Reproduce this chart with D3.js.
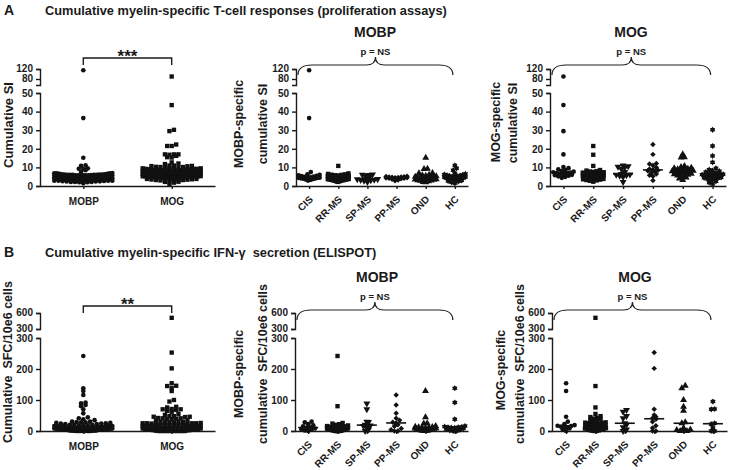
<!DOCTYPE html>
<html lang="en">
<head>
<meta charset="UTF-8">
<title>Cumulative myelin-specific responses</title>
<script src="https://cdn.jsdelivr.net/npm/d3@7"></script>
<style>
    html, body { margin: 0; padding: 0; background: #fff; }
    svg { display: block; font-family: "Liberation Sans", Arial, Helvetica, sans-serif; font-weight: bold; }
    .axis path, .axis line { stroke: #1a1a1a; stroke-width: 1.4; }
    .axis text { font-family: "Liberation Sans", Arial, sans-serif; font-size: 10px; font-weight: bold; fill: #1a1a1a; }
    text { fill: #1a1a1a; }
</style>
</head>
<body>
<svg id="chart" width="731" height="470"></svg>
<script>
const groups = ["CIS", "RR-MS", "SP-MS", "PP-MS", "OND", "HC"];
const antigens = ["MOBP", "MOG"];

// A: proliferation assays, cumulative SI per subject
const cisProlifMOBP = [115, 36.5, 7.5, 6.3, 6.0, 5.8, 5.5, 5.3, 5.1, 4.9, 4.7, 4.6, 4.5, 4.4, 4.3, 4.1, 4.0, 3.9, 3.7, 3.5, 3.2, 2.9];
const rrProlifMOBP = [10.8, 6.8, 6.5, 6.3, 6.1, 6.0, 5.8, 5.7, 5.5, 5.4, 5.2, 5.1, 5.0, 4.9, 4.8, 4.7, 4.6, 4.5, 4.5, 4.4, 4.3, 4.2, 4.1, 4.0, 4.0, 3.9, 3.8, 3.7, 3.6, 3.5, 3.4, 3.3, 3.2, 3.1, 3.0, 2.9, 2.8, 2.6, 2.4, 2.2];
const spProlifMOBP = [6.2, 6.0, 5.9, 5.7, 4.4, 4.0, 3.7, 3.6, 3.4, 3.3, 3.1, 2.8, 2.2];
const ppProlifMOBP = [5.3, 5.1, 5.0, 4.9, 4.8, 4.7, 4.6, 4.5, 4.4, 4.3, 4.2, 4.1, 3.9, 3.6, 3.2, 2.8];
const ondProlifMOBP = [15.2, 9.3, 9.1, 7.0, 6.8, 6.0, 5.8, 5.5, 5.2, 5.0, 4.8, 4.6, 4.5, 4.4, 4.3, 4.2, 4.0, 3.9, 3.8, 3.6, 3.5, 3.3, 3.1, 3.0, 2.8, 2.5, 2.2, 2.0];
const hcProlifMOBP = [11.1, 9.5, 8.5, 6.8, 6.5, 6.2, 6.0, 5.8, 5.6, 5.4, 5.2, 5.0, 4.9, 4.8, 4.7, 4.6, 4.5, 4.4, 4.3, 4.2, 4.1, 4.0, 3.9, 3.8, 3.6, 3.4, 3.2, 3.0, 2.7, 2.4, 2.0, 1.5];

const cisProlifMOG = [90, 43.5, 29.5, 17.0, 10.2, 9.6, 9.0, 8.5, 8.0, 7.7, 7.4, 7.2, 7.0, 6.8, 6.5, 6.2, 6.0, 5.8, 5.5, 5.2, 4.9, 4.4];
const rrProlifMOG = [21.5, 16.8, 10.8, 8.6, 8.3, 8.0, 7.8, 7.6, 7.4, 7.2, 7.0, 6.9, 6.8, 6.7, 6.6, 6.5, 6.4, 6.3, 6.2, 6.1, 6.0, 5.9, 5.8, 5.6, 5.5, 5.4, 5.2, 5.0, 4.8, 4.6, 4.4, 4.2, 4.0, 3.8, 3.6, 3.4, 3.2, 3.0, 2.8, 2.3];
const spProlifMOG = [11.0, 10.6, 10.3, 10.0, 9.2, 7.5, 6.5, 6.2, 6.0, 5.8, 5.5, 4.8, 2.2];
const ppProlifMOG = [22.3, 17.0, 12.1, 11.8, 11.0, 10.0, 9.2, 8.8, 8.5, 8.2, 7.8, 7.0, 6.4, 5.8, 5.2, 3.0];
const ondProlifMOG = [17.0, 15.5, 15.3, 10.7, 10.2, 9.8, 9.5, 9.2, 9.0, 8.7, 8.5, 8.2, 8.0, 7.8, 7.6, 7.4, 7.2, 7.0, 6.8, 6.6, 6.3, 6.0, 5.7, 5.3, 5.0, 4.6, 4.0, 3.2];
const hcProlifMOG = [30.2, 21.5, 16.2, 12.7, 9.5, 8.8, 8.3, 8.0, 7.5, 7.0, 6.8, 6.5, 6.3, 6.1, 6.0, 5.9, 5.8, 5.6, 5.5, 5.4, 5.2, 5.0, 4.8, 4.6, 4.4, 4.1, 3.8, 3.5, 3.0, 2.5, 1.8, 1.1];

// B: ELISPOT, IFN-gamma SFC per 10e6 cells
const cisElispotMOBP = [30, 28, 22, 18, 15, 12, 10, 8, 6, 4, 2, 0];
const rrElispotMOBP = [242, 80, 26, 24, 22, 20, 18, 16, 15, 14, 13, 12, 11, 10, 10, 9, 8, 8, 7, 6, 6, 5, 5, 4, 4, 3, 3, 2, 2, 1, 1, 0, 0, 0, 0, 0];
const spElispotMOBP = [89, 70, 30, 29, 20, 18, 16, 10, 5, 0];
const ppElispotMOBP = [116, 84, 57, 41, 35, 28, 26, 20, 15, 8, 4, 0, 0];
const ondElispotMOBP = [129, 44, 25, 24, 16, 14, 13, 12, 11, 11, 10, 9, 8, 7, 6, 5, 4, 3, 2, 1, 0, 0];
const hcElispotMOBP = [138, 92, 38, 16, 14, 13, 12, 12, 11, 10, 8, 6, 4, 2, 0, 0];

const cisElispotMOG = [154, 129, 46, 30, 22, 19, 17, 16, 14, 12, 10, 8, 5, 0];
const rrElispotMOG = [510, 145, 76, 55, 48, 45, 42, 40, 38, 35, 33, 30, 28, 27, 26, 25, 24, 22, 20, 19, 18, 16, 15, 14, 12, 10, 9, 8, 6, 5, 4, 3, 2, 1, 0, 0];
const spElispotMOG = [68, 62, 48, 41, 25, 20, 12, 5, 0];
const ppElispotMOG = [253, 202, 70, 52, 46, 41, 38, 30, 17, 10, 0, 0];
const ondElispotMOG = [146, 138, 100, 78, 65, 28, 25, 10, 5, 3, 0, 0, 0];
const hcElispotMOG = [95, 71, 70, 25, 22, 10, 0, 0];

const prolifMOBP = [cisProlifMOBP, rrProlifMOBP, spProlifMOBP, ppProlifMOBP, ondProlifMOBP, hcProlifMOBP];
const prolifMOG = [cisProlifMOG, rrProlifMOG, spProlifMOG, ppProlifMOG, ondProlifMOG, hcProlifMOG];
const elispotMOBP = [cisElispotMOBP, rrElispotMOBP, spElispotMOBP, ppElispotMOBP, ondElispotMOBP, hcElispotMOBP];
const elispotMOG = [cisElispotMOG, rrElispotMOG, spElispotMOG, ppElispotMOG, ondElispotMOG, hcElispotMOG];

const prolifTicksLow = [0, 10, 20, 30, 40, 50];
const prolifTicksHigh = [80, 120];
const elispotTicksLow = [0, 100, 200, 300];
const elispotTicksHigh = [300, 600];

// ---------------------------------------------------------------
const svg = d3.select("#chart");

// six point star for HC
const symbolHexStar = {
    draw(ctx, size) {
        const r = Math.sqrt(size / 2.1);
        const ri = r * 0.64;
        for (let k = 0; k < 12; k++) {
            const a = Math.PI / 6 * k - Math.PI / 2;
            const rr = k % 2 ? ri : r;
            if (k) ctx.lineTo(rr * Math.cos(a), rr * Math.sin(a));
            else ctx.moveTo(rr * Math.cos(a), rr * Math.sin(a));
        }
        ctx.closePath();
    }
};

const shp = {
    circle: {type: d3.symbolCircle, size: 17, rot: 0},
    square: {type: d3.symbolSquare, size: 19, rot: 0},
    triDown: {type: d3.symbolTriangle, size: 21, rot: 180},
    diamond: {type: d3.symbolSquare, size: 15, rot: 45},
    triUp: {type: d3.symbolTriangle, size: 21, rot: 0},
    hex: {type: symbolHexStar, size: 20, rot: 0}
};
const groupShapes = [shp.circle, shp.square, shp.triDown, shp.diamond, shp.triUp, shp.hex];

const prolifScale = {low: [0, 50], lowRange: [186, 93], high: [56, 120], highRange: [85, 69],
    lowTicks: prolifTicksLow, highTicks: prolifTicksHigh};
const elispotScale = {low: [0, 300], lowRange: [431, 338], high: [300, 600], highRange: [329, 313],
    lowTicks: elispotTicksLow, highTicks: elispotTicksHigh};

// scatter-dot layout: points in the same row are spread around the centre
function swarm(values, yOf, cx, step, maxW, binH) {
    const pts = values.map(v => ({v: v, py: yOf(v)})).sort((a, b) => b.py - a.py);
    const bins = [];
    pts.forEach(p => {
        const last = bins[bins.length - 1];
        if (last && Math.abs(p.py - last[0].py) < binH) last.push(p);
        else bins.push([p]);
    });
    bins.forEach(bin => {
        const n = bin.length;
        const s = n > 1 ? Math.min(step, maxW / (n - 1)) : 0;
        const slots = d3.range(n).map(k => k - (n - 1) / 2)
            .sort((a, b) => Math.abs(a) - Math.abs(b) || a - b);
        bin.forEach((p, i) => { p.px = cx + slots[i] * s; });
    });
    return pts;
}

function drawPanel(p) {
    const g = svg.append("g");
    const sc = p.sc;
    const yLow = d3.scaleLinear().domain(sc.low).range(sc.lowRange);
    const yHigh = d3.scaleLinear().domain(sc.high).range(sc.highRange);
    const yOf = v => v > sc.low[1] ? yHigh(v) : yLow(v);
    const x = d3.scalePoint().domain(p.cats).range([p.x0, p.x1]).padding(p.pad);

    g.append("g").attr("class", "axis").attr("transform", `translate(${p.x0},0)`)
        .call(d3.axisLeft(yLow).tickValues(sc.lowTicks).tickSize(4).tickPadding(3).tickSizeOuter(4));
    g.append("g").attr("class", "axis").attr("transform", `translate(${p.x0},0)`)
        .call(d3.axisLeft(yHigh).tickValues(sc.highTicks).tickSize(4).tickPadding(3).tickSizeOuter(4))
        .selectAll(".tick text").attr("dy", "0.2em");

    const xa = g.append("g").attr("class", "axis").attr("transform", `translate(0,${sc.lowRange[0]})`)
        .call(d3.axisBottom(x).tickSize(3).tickSizeOuter(0));
    if (p.rotate) {
        xa.selectAll(".tick text")
            .attr("x", 0).attr("y", 0).attr("dy", 0)
            .attr("text-anchor", "end")
            .attr("transform", "translate(4,14) rotate(-45)");
    } else {
        xa.selectAll(".tick text").attr("y", 12);
    }

    // points
    p.series.forEach((vals, i) => {
        const sh = p.shapes[i];
        const pts = swarm(vals, yOf, x(p.cats[i]), p.step, p.maxW, p.binH);
        g.append("g").selectAll("path").data(pts).join("path")
            .attr("d", d3.symbol().type(sh.type).size(sh.size))
            .attr("transform", d => `translate(${d.px},${d.py}) rotate(${sh.rot})`)
            .attr("fill", "#111");
        const med = d3.median(vals);
        g.append("line")
            .attr("x1", x(p.cats[i]) - p.medW / 2).attr("x2", x(p.cats[i]) + p.medW / 2)
            .attr("y1", yOf(med)).attr("y2", yOf(med))
            .attr("stroke", "#111").attr("stroke-width", 1.6);
    });

    // y labels
    p.ylabels.forEach(l => {
        g.append("text")
            .attr("transform", `translate(${l.x},${l.y}) rotate(-90)`)
            .attr("text-anchor", "middle")
            .style("white-space", "pre")
            .style("font-size", l.size + "px")
            .text(l.t);
    });

    const base = sc.lowRange[0];
    if (p.title) {
        g.append("text").attr("x", p.titleX).attr("y", base - 149)
            .attr("text-anchor", "middle").style("font-size", "14px").text(p.title);
    }
    if (p.brace) {
        const xa0 = p.x0 + 2, xa1 = x(p.cats[p.cats.length - 1]) - 2;
        const mid = (xa0 + xa1) / 2;
        const yEnd = base - 111, yTop = base - 121, yTip = base - 129;
        const path = d3.path();
        path.moveTo(xa0, yEnd);
        path.quadraticCurveTo(xa0, yTop, xa0 + 14, yTop);
        path.lineTo(mid - 9, yTop);
        path.quadraticCurveTo(mid, yTop, mid, yTip);
        path.quadraticCurveTo(mid, yTop, mid + 9, yTop);
        path.lineTo(xa1 - 14, yTop);
        path.quadraticCurveTo(xa1, yTop, xa1, yEnd);
        g.append("path").attr("d", path.toString())
            .attr("fill", "none").attr("stroke", "#222").attr("stroke-width", 1.2);
        g.append("text").attr("x", mid).attr("y", yTip - 2)
            .attr("text-anchor", "middle").style("font-size", "9.5px").text("p = NS");
    }
    if (p.sig) {
        const xa0 = x(p.cats[0]), xa1 = x(p.cats[1]);
        const yb = base - p.sig.dy;
        g.append("path")
            .attr("d", `M${xa0},${yb + 7}V${yb}H${xa1}V${yb + 7}`)
            .attr("fill", "none").attr("stroke", "#1a1a1a").attr("stroke-width", 1.4);
        g.append("text").attr("x", (xa0 + xa1) / 2).attr("y", yb + 4)
            .attr("text-anchor", "middle").style("font-size", "17px").text(p.sig.t);
    }
}

// panel headers
svg.append("text").attr("x", 4).attr("y", 15).style("font-size", "14px").text("A");
svg.append("text").attr("x", 45).attr("y", 15).style("font-size", "12.8px")
    .text("Cumulative myelin-specific T-cell responses (proliferation assays)");
svg.append("text").attr("x", 4).attr("y", 257).style("font-size", "14px").text("B");
svg.append("text").attr("x", 45).attr("y", 257).style("font-size", "12.8px")
    .text("Cumulative myelin-specific IFN-\u03b3  secretion (ELISPOT)").style("white-space", "pre");

// A row
drawPanel({cats: antigens, series: [[].concat(...prolifMOBP), [].concat(...prolifMOG)],
    shapes: [shp.circle, shp.square], x0: 40, x1: 215, pad: 0.49, sc: prolifScale,
    step: 4.5, maxW: 58, binH: 2.6, medW: 50, rotate: false,
    ylabels: [{t: "Cumulative SI", x: 13, y: 125, size: 13}],
    sig: {t: "***", dy: 128}});
drawPanel({cats: groups, series: prolifMOBP, shapes: groupShapes,
    x0: 296, x1: 468, pad: 0.45, sc: prolifScale, step: 3.4, maxW: 21, binH: 3, medW: 20, rotate: true,
    ylabels: [{t: "MOBP-specific", x: 243, y: 124, size: 12.5}, {t: "cumulative SI", x: 267, y: 124, size: 12.5}],
    title: "MOBP", titleX: 375, brace: true});
drawPanel({cats: groups, series: prolifMOG, shapes: groupShapes,
    x0: 550, x1: 726, pad: 0.45, sc: prolifScale, step: 3.4, maxW: 21, binH: 3, medW: 20, rotate: true,
    ylabels: [{t: "MOG-specific", x: 500, y: 122, size: 12.5}, {t: "cumulative SI", x: 517, y: 123, size: 12.5}],
    title: "MOG", titleX: 631, brace: true});

// B row
drawPanel({cats: antigens, series: [[].concat(...elispotMOBP), [].concat(...elispotMOG)],
    shapes: [shp.circle, shp.square], x0: 40, x1: 215, pad: 0.49, sc: elispotScale,
    step: 4.5, maxW: 58, binH: 2.6, medW: 50, rotate: false,
    ylabels: [{t: "Cumulative  SFC/10e6 cells", x: 12, y: 362, size: 12.5}],
    sig: {t: "**", dy: 125}});
drawPanel({cats: groups, series: elispotMOBP, shapes: groupShapes,
    x0: 295, x1: 468, pad: 0.45, sc: elispotScale, step: 3.4, maxW: 21, binH: 3, medW: 20, rotate: true,
    ylabels: [{t: "MOBP-specific", x: 243, y: 374, size: 12.5}, {t: "cumulative  SFC/10e6 cells", x: 267, y: 364, size: 12.5}],
    title: "MOBP", titleX: 377, brace: true});
drawPanel({cats: groups, series: elispotMOG, shapes: groupShapes,
    x0: 552, x1: 727, pad: 0.48, sc: elispotScale, step: 3.4, maxW: 21, binH: 3, medW: 20, rotate: true,
    ylabels: [{t: "MOG-specific", x: 505, y: 370, size: 12.5}, {t: "cumulative  SFC/10e6 cells", x: 524, y: 364, size: 12.5}],
    title: "MOG", titleX: 635, brace: true});
</script>
</body>
</html>
